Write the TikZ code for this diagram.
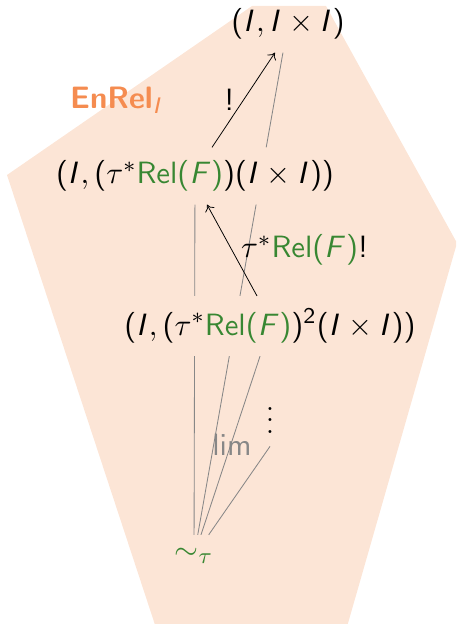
\documentclass[tikz,border=0pt]{standalone}
\usepackage{tikz}
\usetikzlibrary{arrows.meta,positioning,calc}

\definecolor{peach}{RGB}{252,229,214}
\definecolor{enrelorange}{RGB}{245,140,80}
\definecolor{relgreen}{RGB}{56,135,50}
\definecolor{limgray}{RGB}{135,135,135}

% sans serif math letters
\SetSymbolFont{operators}{normal}{OT1}{cmss}{m}{n}
\DeclareSymbolFont{sfit}{OT1}{cmss}{m}{sl}
\DeclareMathSymbol{I}{\mathalpha}{sfit}{`I}
\DeclareMathSymbol{F}{\mathalpha}{sfit}{`F}

\newcommand{\RelF}{\textcolor{relgreen}{\mathrm{Rel}(F)}}

\pgfdeclarelayer{back}
\pgfdeclarelayer{legs}
\pgfsetlayers{back,legs,main}

\begin{document}
\begin{tikzpicture}[
    scale=2,
    transform shape,
    font=\fontsize{11}{13.5}\selectfont,
    objnode/.style={inner sep=4.5pt},
    lblnode/.style={inner sep=3pt},
    leg/.style={draw=limgray, line width=0.6pt},
    mor/.style={-{To[length=1.6mm,width=2.6mm]}, line width=0.55pt}
]
    \useasboundingbox (0,0) rectangle (5.7,-7.8);

    % Fond
    \begin{pgfonlayer}{back}
        \clip (0,0) rectangle (5.7,-7.8);
        \fill[peach] (3.15,-0.075) -- (4.075,-0.075) -- (5.7125,-3.0375) -- (4.29,-8.0) -- (2.0,-8.0) -- (0.0875,-2.1875) -- cycle;
    \end{pgfonlayer}

    \node[font=\fontsize{11}{13.5}\selectfont\sffamily\bfseries, text=enrelorange] (enrel) at (1.4625, -1.25) {EnRel$_I$};

    % Objets
    \node[objnode] (top) at (3.6, -0.3) {$(I, I \times I)$};
    \node[objnode] (n1) at (2.4375, -2.2) {$(I, (\tau^*\RelF)(I \times I))$};
    \node[objnode] (n2) at (3.375, -4.075) {$(I, (\tau^*\RelF)^2(I \times I))$};
    \node[objnode] (dots) at (3.375, -5.15) {$\vdots$};
    \node[objnode, text=relgreen] (tau) at (2.425, -6.95) {$\sim_\tau$};
    \node[lblnode, text=limgray] (lim) at (2.9, -5.5625) {$\lim$};

    % Fleches
    \draw[mor] ($(n1.north)+(0.2125,0)$) -- node[lblnode, left] (bang) {$!$} ($(top.south)+(-0.1625,0)$);
    \draw[mor] ($(n2.north)+(-0.1625,0)$) -- node[lblnode, right] (relbang) {$\tau^*\RelF!$} ($(n1.south)+(0.15,0)$);

    % Cone limite
    \begin{pgfonlayer}{legs}
    \begin{scope}[even odd rule]
        \clip (0,0) rectangle (5.7,-7.8)
            (n1.south west) rectangle (n1.north east)
            (n2.south west) rectangle (n2.north east);
        \draw[leg] (tau) -- (top);
        \draw[leg] (tau) -- (n1);
        \draw[leg] (tau) -- (n2);
        \draw[leg] (tau) -- (dots.south);
    \end{scope}
    \end{pgfonlayer}

\end{tikzpicture}
\end{document}
